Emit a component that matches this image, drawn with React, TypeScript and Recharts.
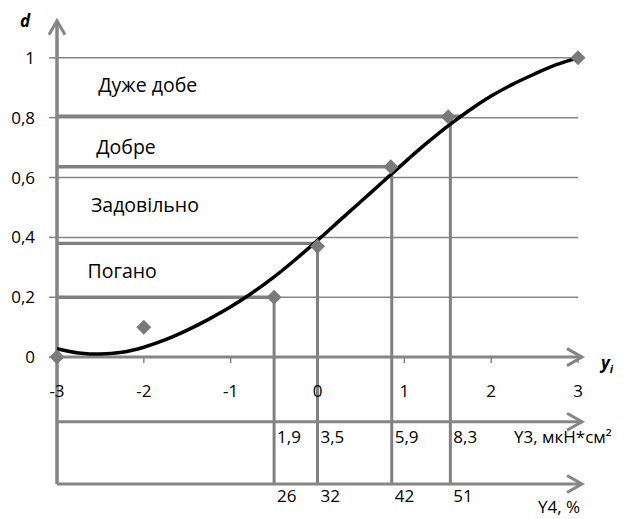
import { ComposedChart, Line, Scatter, XAxis, YAxis, ReferenceLine, ReferenceDot } from "recharts";

// values
const curveX = [-3, -2.75, -2.5, -2.25, -2, -1.75, -1.5, -1.25, -1, -0.75, -0.5, -0.25, 0, 0.25, 0.5, 0.75, 1, 1.25, 1.5, 1.75, 2, 2.25, 2.5, 2.75, 3];
const curveD = [0.028, 0.014, 0.01, 0.016, 0.033, 0.058, 0.09, 0.127, 0.168, 0.215, 0.268, 0.327, 0.39, 0.455, 0.52, 0.585, 0.65, 0.713, 0.772, 0.825, 0.872, 0.912, 0.946, 0.977, 1.0];

const pointX = [-3, -2, -0.5, 0, 0.845, 1.505, 3];
const pointD = [0, 0.1, 0.2, 0.37, 0.636, 0.803, 1];

// desirability levels: horizontal bar to the point, then a drop line down to the Y4 scale
const levelD = [0.2, 0.38, 0.636, 0.805];
const levelEndX = [-0.5, 0, 0.845, 1.67];
const dropX = [-0.5, 0, 0.855, 1.53];
const y3Values = ["1,9", "3,5", "5,9", "8,3"];
const y4Values = ["26", "32", "42", "51"];

const xTicks = [-3, -2, -1, 0, 1, 2, 3];
const yTicks = [0, 0.2, 0.4, 0.6, 0.8, 1];
const gridD = [0.2, 0.4, 0.6, 0.8, 1];

const zoneNames = ["Дуже добе", "Добре", "Задовільно", "Погано"];
const zoneAnchors = [
  { x: -2.525, d: 0.886 },
  { x: -2.548, d: 0.678 },
  { x: -2.609, d: 0.486 },
  { x: -2.648, d: 0.263 },
];

const Y3_AT = -0.216;
const Y4_AT = -0.424;
const TOP = 1.124;

const GRAY = "#858585";
const FONT = "'Open Sans', sans-serif";

const arrowRight = (p: any) => (
  <g>
    <line x1={p.x1} y1={p.y1} x2={p.x2 + 4} y2={p.y2} stroke={GRAY} strokeWidth={3} />
    <polyline
      points={`${p.x2 - 11},${p.y2 - 8.5} ${p.x2 + 4},${p.y2} ${p.x2 - 11},${p.y2 + 8.5}`}
      fill="none"
      stroke={GRAY}
      strokeWidth={3}
    />
  </g>
);

const arrowUp = (p: any) => (
  <g>
    <line x1={p.x1} y1={p.y1} x2={p.x2} y2={p.y2} stroke={GRAY} strokeWidth={3.5} />
    <polyline
      points={`${p.x2 - 8},${p.y2 + 14} ${p.x2},${p.y2} ${p.x2 + 8},${p.y2 + 14}`}
      fill="none"
      stroke={GRAY}
      strokeWidth={3}
    />
  </g>
);

const Diamond = (p: any) => {
  const { cx, cy } = p;
  const r = 7.5;
  return <polygon points={`${cx},${cy - r} ${cx + r},${cy} ${cx},${cy + r} ${cx - r},${cy}`} fill="#7a7a7a" />;
};

const numStyle = { fontFamily: FONT, fontSize: 17, fill: "#000" };

export default function App() {
  const curve = curveX.map((x, i) => ({ x, d: curveD[i] }));
  const points = pointX.map((x, i) => ({ x, d: pointD[i] }));

  return (
    <div style={{ width: 622, height: 511 }}>
      <ComposedChart width={622} height={511} data={curve} margin={{ top: 12.7, right: 52, bottom: 35, left: 0 }}>
        <XAxis type="number" dataKey="x" domain={[-3, 3]} hide />
        <YAxis
          type="number"
          domain={[Y4_AT, TOP]}
          ticks={yTicks}
          width={49}
          axisLine={false}
          tickLine={{ stroke: GRAY, strokeWidth: 1.5 }}
          tickSize={8}
          tickMargin={14}
          tick={numStyle}
          tickFormatter={(v: number) => String(v).replace(".", ",")}
        />

        {gridD.map((v) => (
          <ReferenceLine key={"g" + v} y={v} stroke={GRAY} strokeWidth={1.5} />
        ))}

        {levelD.map((v, i) => (
          <ReferenceLine
            key={"l" + i}
            segment={[{ x: -3, y: v }, { x: levelEndX[i], y: v }]}
            stroke="#808080"
            strokeWidth={3.3}
          />
        ))}
        {levelD.map((v, i) => (
          <ReferenceLine
            key={"v" + i}
            segment={[{ x: dropX[i], y: v }, { x: dropX[i], y: Y4_AT }]}
            stroke="#808080"
            strokeWidth={3}
          />
        ))}

        <ReferenceLine segment={[{ x: -3, y: 0 }, { x: 3, y: 0 }]} shape={arrowRight} />
        <ReferenceLine segment={[{ x: -3, y: Y3_AT }, { x: 3, y: Y3_AT }]} shape={arrowRight} />
        <ReferenceLine segment={[{ x: -3, y: Y4_AT }, { x: 3, y: Y4_AT }]} shape={arrowRight} />
        <ReferenceLine segment={[{ x: -3, y: Y4_AT }, { x: -3, y: TOP }]} shape={arrowUp} />

        {xTicks.map((v) => (
          <ReferenceDot
            key={"xt" + v}
            x={v}
            y={0}
            r={0}
            shape={(p: any) => (
              <g>
                <line x1={p.cx} y1={p.cy} x2={p.cx} y2={p.cy + 6} stroke={GRAY} strokeWidth={1.5} />
                <text x={p.cx} y={p.cy + 40} textAnchor="middle" style={numStyle}>
                  {v}
                </text>
              </g>
            )}
          />
        ))}

        {dropX.map((x, i) => (
          <ReferenceDot
            key={"y3" + i}
            x={x}
            y={Y3_AT}
            r={0}
            shape={(p: any) => (
              <text x={p.cx + 3} y={p.cy + 21} style={numStyle}>
                {y3Values[i]}
              </text>
            )}
          />
        ))}
        {dropX.map((x, i) => (
          <ReferenceDot
            key={"y4" + i}
            x={x}
            y={Y4_AT}
            r={0}
            shape={(p: any) => (
              <text x={p.cx + 3} y={p.cy + 18} style={numStyle}>
                {y4Values[i]}
              </text>
            )}
          />
        ))}

        {zoneNames.map((name, i) => (
          <ReferenceDot
            key={"z" + i}
            x={zoneAnchors[i].x}
            y={zoneAnchors[i].d}
            r={0}
            shape={(p: any) => (
              <text x={p.cx} y={p.cy} style={{ fontFamily: FONT, fontSize: 19.5, fill: "#000" }}>
                {name}
              </text>
            )}
          />
        ))}

        <ReferenceDot
          x={-3}
          y={TOP}
          r={0}
          shape={(p: any) => (
            <text x={p.cx - 37} y={p.cy + 6} style={{ fontFamily: FONT, fontSize: 17, fontWeight: 700, fontStyle: "italic", fill: "#000" }}>
              d
            </text>
          )}
        />
        <ReferenceDot
          x={3}
          y={0}
          r={0}
          shape={(p: any) => (
            <text x={p.cx + 23} y={p.cy + 12} style={{ fontFamily: FONT, fontSize: 17, fontWeight: 700, fontStyle: "italic", fill: "#000" }}>
              y<tspan fontSize={11} dy={4}>i</tspan>
            </text>
          )}
        />
        <ReferenceDot
          x={3}
          y={Y3_AT}
          r={0}
          shape={(p: any) => (
            <text x={p.cx - 64} y={p.cy + 21} style={numStyle}>
              Y3, мкН*см²
            </text>
          )}
        />
        <ReferenceDot
          x={3}
          y={Y4_AT}
          r={0}
          shape={(p: any) => (
            <text x={p.cx - 40} y={p.cy + 29} style={numStyle}>
              Y4, %
            </text>
          )}
        />

        <Scatter data={points} dataKey="d" shape={Diamond} isAnimationActive={false} />
        <Line dataKey="d" type="monotone" stroke="#000" strokeWidth={3.5} dot={false} activeDot={false} isAnimationActive={false} />
      </ComposedChart>
    </div>
  );
}
